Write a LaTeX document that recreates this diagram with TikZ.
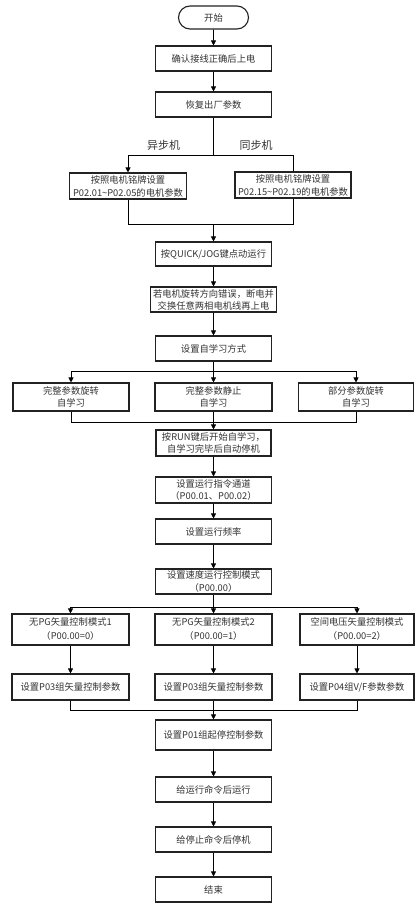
\documentclass[tikz,border=0pt]{standalone}
\usepackage{fontspec}
\setmainfont{Noto Sans CJK SC}
\usetikzlibrary{arrows.meta,shapes.misc}
\definecolor{txt}{HTML}{333333}
\definecolor{edge}{HTML}{222222}
\tikzset{
  box/.style={draw=edge,line width=1.1pt,fill=white,inner sep=1pt,align=center,text=txt,
    font=\fontsize{9.3}{12.5}\selectfont},
  term/.style={box,rounded rectangle,minimum width=72pt,minimum height=23pt},
  lbl/.style={text=txt,font=\fontsize{11}{13}\selectfont,inner sep=0pt},
  conn/.style={draw=black,line width=0.8pt},
  arr/.style={conn,-{Triangle[width=5pt,length=5pt]}}
}
\begin{document}
\begin{tikzpicture}[x=1pt,y=-1pt]
\path[fill=white] (0,0) rectangle (417,905);
\useasboundingbox (0,0) rectangle (417,905);
% nodes
\node[term] (start) at (213.5,17.5) {开始};
\node[box,minimum width=116pt,minimum height=25pt] (b1) at (213.5,58.5) {确认接线正确后上电};
\node[box,minimum width=116pt,minimum height=25pt] (b2) at (213.5,104.5) {恢复出厂参数};
\node[lbl] (la) at (163.5,145) {异步机};
\node[lbl] (lb) at (256,145) {同步机};
\node[box,minimum width=117pt,minimum height=26pt,font=\fontsize{9.3}{13}\selectfont] (L) at (128,186) {按照电机铭牌设置\\P02.01\textasciitilde P02.05的电机参数};
\node[box,minimum width=116pt,minimum height=26pt,font=\fontsize{9.3}{13}\selectfont] (R) at (293,185) {按照电机铭牌设置\\P02.15\textasciitilde P02.19的电机参数};
\node[box,minimum width=116pt,minimum height=24pt] (b3) at (213.5,254) {按QUICK/JOG键点动运行};
\node[box,minimum width=126pt,minimum height=25pt,font=\fontsize{9.3}{12}\selectfont] (b4) at (213.5,299.5) {若电机旋转方向错误，断电并\\交换任意两相电机线再上电};
\node[box,minimum width=116pt,minimum height=25pt] (b5) at (213.5,348.5) {设置自学习方式};
\node[box,minimum width=116pt,minimum height=28pt] (t1) at (71,397) {完整参数旋转\\自学习};
\node[box,minimum width=117pt,minimum height=28pt] (t2) at (213.5,397) {完整参数静止\\自学习};
\node[box,minimum width=115pt,minimum height=28pt] (t3) at (356,397) {部分参数旋转\\自学习};
\node[box,minimum width=115pt,minimum height=26pt] (b6) at (213.5,443) {按RUN键后开始自学习，\\自学习完毕后自动停机};
\node[box,minimum width=116pt,minimum height=26pt] (b7) at (213.5,490) {设置运行指令通道\\（P00.01、P00.02）};
\node[box,minimum width=116pt,minimum height=25pt] (b8) at (213.5,531.5) {设置运行频率};
\node[box,minimum width=116pt,minimum height=25pt] (b9) at (213.5,581.5) {设置速度运行控制模式\\（P00.00）};
\node[box,minimum width=117pt,minimum height=31pt,font=\fontsize{9.3}{14}\selectfont] (m1) at (70.5,629.5) {无PG矢量控制模式1\\（P00.00=0）};
\node[box,minimum width=117pt,minimum height=31pt,font=\fontsize{9.3}{14}\selectfont] (m2) at (213.5,629.5) {无PG矢量控制模式2\\（P00.00=1）};
\node[box,minimum width=114pt,minimum height=31pt,font=\fontsize{9.3}{14}\selectfont] (m3) at (357,629.5) {空间电压矢量控制模式\\（P00.00=2）};
\node[box,minimum width=117pt,minimum height=26pt] (p1) at (70.5,687) {设置P03组矢量控制参数};
\node[box,minimum width=117pt,minimum height=26pt] (p2) at (213.5,687) {设置P03组矢量控制参数};
\node[box,minimum width=114pt,minimum height=26pt] (p3) at (357,687) {设置P04组V/F参数参数};
\node[box,minimum width=116pt,minimum height=30pt] (b10) at (213.5,735) {设置P01组起停控制参数};
\node[box,minimum width=116pt,minimum height=25pt] (b11) at (213.5,789.5) {给运行命令后运行};
\node[box,minimum width=116pt,minimum height=25pt] (b12) at (213.5,839.5) {给停止命令后停机};
\node[box,minimum width=116pt,minimum height=25pt] (end) at (213.5,889.5) {结束};
% junctions
\coordinate (jA) at (213.5,155);
\coordinate (jB) at (213.5,224);
\coordinate (jC) at (213.5,371);
\coordinate (jD) at (213.5,422);
\coordinate (jE) at (213.5,607);
\coordinate (jF) at (213.5,710);
% connectors
\draw[arr] (start) -- (b1);
\draw[arr] (b1) -- (b2);
\draw[conn] (b2) -- (jA);
\draw[arr] (jA) -| (L.north);
\draw[conn] (jA) -| (R.north);
\draw[conn] (L.south) |- (jB);
\draw[conn] (R.south) |- (jB);
\draw[arr] (jB) -- (b3);
\draw[arr] (b3) -- (b4);
\draw[arr] (b4) -- (b5);
\draw[conn] (b5) -- (jC);
\draw[arr] (jC) -| (t1.north);
\draw[arr] (jC) -- (t2.north);
\draw[arr] (jC) -| (t3.north);
\draw[conn] (t1.south) |- (jD);
\draw[conn] (t3.south) |- (jD);
\draw[arr] (t2.south) -- (b6.north);
\draw[arr] (b6) -- (b7);
\draw[arr] (b7) -- (b8);
\draw[arr] (b8) -- (b9);
\draw[conn] (b9) -- (jE);
\draw[arr] (jE) -| (m1.north);
\draw[arr] (jE) -- (m2.north);
\draw[arr] (jE) -| (m3.north);
\draw[arr] (m1) -- (p1);
\draw[arr] (m2) -- (p2);
\draw[arr] (m3) -- (p3);
\draw[conn] (p1.south) |- (jF);
\draw[conn] (p3.south) |- (jF);
\draw[arr] (p2.south) -- (b10.north);
\draw[arr] (b10) -- (b11);
\draw[arr] (b11) -- (b12);
\draw[arr] (b12) -- (end);
\end{tikzpicture}
\end{document}
